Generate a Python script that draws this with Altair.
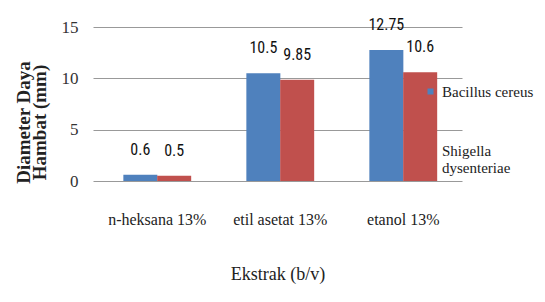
import altair as alt
import pandas as pd

categories = ["n-heksana 13%", "etil asetat 13%", "etanol 13%"]
series = ["Bacillus cereus", "Shigella dysenteriae"]
bacillus = [0.6, 10.5, 12.75]
shigella = [0.5, 9.85, 10.6]
colors = ["#4F81BD", "#C0504D"]

rows = []
for c, b, s in zip(categories, bacillus, shigella):
    rows.append({"ekstrak": c, "bakteri": series[0], "nilai": b})
    rows.append({"ekstrak": c, "bakteri": series[1], "nilai": s})
df = pd.DataFrame(rows)

serif = "Times New Roman, Liberation Serif, serif"
narrow = "Liberation Sans Narrow, Arial Narrow, Roboto Condensed, DejaVu Sans Condensed, sans-serif"

x = alt.X("ekstrak:N", sort=categories,
          scale=alt.Scale(paddingInner=0.45, paddingOuter=0.225, align=0.55),
          axis=alt.Axis(title="Ekstrak (b/v)", labelAngle=0, labelFont=serif,
                        labelFontSize=16, labelColor="#222", labelPadding=30,
                        domain=False, ticks=False, grid=False,
                        titleFont=serif, titleFontSize=18, titleFontWeight="normal",
                        titleColor="#222", titlePadding=38))
xo = alt.XOffset("bakteri:N", sort=series)
y = alt.Y("nilai:Q", scale=alt.Scale(domain=[0, 15], nice=False),
          axis=alt.Axis(values=[0, 5, 10, 15], title=["Diameter Daya", "Hambat (mm)"],
                        labelFont=serif, labelFontSize=17, labelColor="#333",
                        labelPadding=15, domain=False, ticks=False,
                        gridColor="#999", gridWidth=1,
                        titleFont=serif, titleFontSize=19, titleFontWeight="bold",
                        titleColor="#222", titleAngle=270, titleX=-70, titleY=95,
                        titleAlign="center", titleBaseline="middle", titleLineHeight=16))

color = alt.Color("bakteri:N", sort=series,
                  scale=alt.Scale(domain=series, range=colors),
                  legend=alt.Legend(title=None, orient="none", legendX=330, legendY=57,
                                    symbolType="square", symbolSize=36,
                                    labelFont=serif, labelFontSize=15, labelColor="#222",
                                    labelOffset=4, rowPadding=43, labelLimit=200,
                                    labelExpr="datum.label == 'Shigella dysenteriae' ? ['Shigella', 'dysenteriae'] : datum.label"))

bars = alt.Chart(df).mark_bar(size=34).encode(x=x, xOffset=xo, y=y, color=color)
labels = alt.Chart(df).mark_text(dy=-25, baseline="middle", font=narrow,
                                 fontSize=16, color="#111").encode(
    x=x, xOffset=xo, y=y, text=alt.Text("nilai:Q"))

chart = alt.layer(bars, labels).properties(
    width=369, height=154,
    autosize=alt.AutoSizeParams(type="none"),
    padding={"left": 85, "top": 19, "right": 75, "bottom": 113},
).configure_view(stroke=None)

chart.save("out.html", embed_options={"renderer": "svg", "actions": False})
